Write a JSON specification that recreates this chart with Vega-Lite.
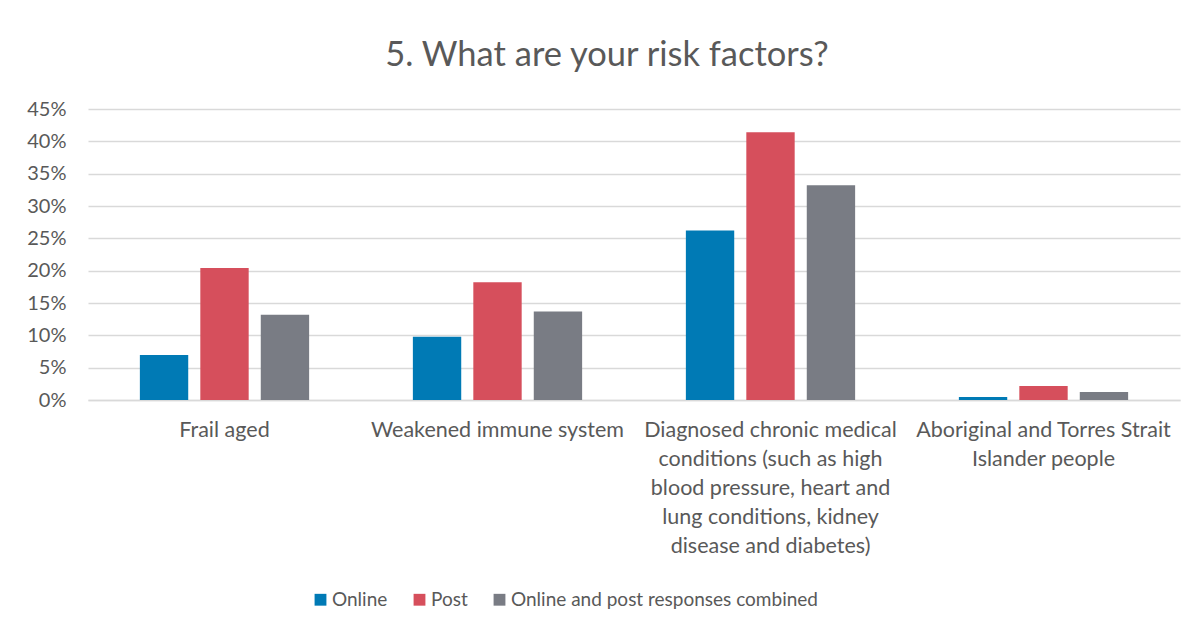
{
  "$schema": "https://vega.github.io/schema/vega-lite/v6.json",
  "autosize": {"type": "none"},
  "width": 1092,
  "height": 291,
  "padding": {"left": 88, "top": 109, "right": 23, "bottom": 233},
  "background": "white",
  "title": {
    "text": "5. What are your risk factors?",
    "font": "Lato",
    "fontSize": 34.5,
    "fontWeight": "normal",
    "color": "#595959",
    "anchor": "middle",
    "dx": -27,
    "offset": 26
  },
  "data": {
    "values": [
      {"factor": "Frail aged", "group": "Online", "value": 0.0695},
      {"factor": "Frail aged", "group": "Post", "value": 0.204},
      {"factor": "Frail aged", "group": "Online and post responses combined", "value": 0.132},
      {"factor": "Weakened immune system", "group": "Online", "value": 0.098},
      {"factor": "Weakened immune system", "group": "Post", "value": 0.182},
      {"factor": "Weakened immune system", "group": "Online and post responses combined", "value": 0.137},
      {"factor": "Diagnosed chronic medical conditions (such as high blood pressure, heart and lung conditions, kidney disease and diabetes)", "group": "Online", "value": 0.262},
      {"factor": "Diagnosed chronic medical conditions (such as high blood pressure, heart and lung conditions, kidney disease and diabetes)", "group": "Post", "value": 0.414},
      {"factor": "Diagnosed chronic medical conditions (such as high blood pressure, heart and lung conditions, kidney disease and diabetes)", "group": "Online and post responses combined", "value": 0.332},
      {"factor": "Aboriginal and Torres Strait Islander people", "group": "Online", "value": 0.0046},
      {"factor": "Aboriginal and Torres Strait Islander people", "group": "Post", "value": 0.0216},
      {"factor": "Aboriginal and Torres Strait Islander people", "group": "Online and post responses combined", "value": 0.0124}
    ]
  },
  "mark": {"type": "bar"},
  "encoding": {
    "x": {
      "field": "factor",
      "type": "nominal",
      "sort": null,
      "title": null,
      "scale": {"paddingInner": 0.38, "paddingOuter": 0.19},
      "axis": {
        "labelAngle": 0,
        "labelFont": "Lato",
        "labelFontSize": 21.5,
        "labelColor": "#595959",
        "labelLineHeight": 29,
        "labelPadding": 19,
        "labelLimit": 400,
        "ticks": false,
        "domainColor": "#D9D9D9",
        "domainWidth": 1.5,
        "labelExpr": "datum.value == 'Diagnosed chronic medical conditions (such as high blood pressure, heart and lung conditions, kidney disease and diabetes)' ? ['Diagnosed chronic medical', 'conditions (such as high', 'blood pressure, heart and', 'lung conditions, kidney', 'disease and diabetes)'] : datum.value == 'Aboriginal and Torres Strait Islander people' ? ['Aboriginal and Torres Strait', 'Islander people'] : datum.value"
      }
    },
    "xOffset": {
      "field": "group",
      "type": "nominal",
      "sort": ["Online", "Post", "Online and post responses combined"],
      "scale": {"paddingInner": 0.2, "paddingOuter": 0}
    },
    "y": {
      "field": "value",
      "type": "quantitative",
      "title": null,
      "scale": {"domain": [0, 0.45]},
      "axis": {
        "values": [0, 0.05, 0.1, 0.15, 0.2, 0.25, 0.3, 0.35, 0.4, 0.45],
        "format": ".0%",
        "labelFont": "Lato",
        "labelFontSize": 20,
        "labelColor": "#595959",
        "labelPadding": 22,
        "ticks": false,
        "domain": false,
        "gridColor": "#D9D9D9",
        "gridWidth": 1.5
      }
    },
    "color": {
      "field": "group",
      "type": "nominal",
      "sort": ["Online", "Post", "Online and post responses combined"],
      "scale": {
        "domain": ["Online", "Post", "Online and post responses combined"],
        "range": ["#007AB5", "#D64F5C", "#797C84"]
      },
      "legend": {
        "title": null,
        "orient": "none",
        "direction": "horizontal",
        "legendX": 223,
        "legendY": 481,
        "symbolType": "square",
        "symbolSize": 140,
        "symbolStrokeWidth": 0,
        "symbolOpacity": 1,
        "labelFont": "Lato",
        "labelFontSize": 19,
        "labelColor": "#595959",
        "labelOffset": 2,
        "columnPadding": 22,
        "labelLimit": 500
      }
    }
  },
  "config": {
    "view": {"stroke": null}
  }
}
